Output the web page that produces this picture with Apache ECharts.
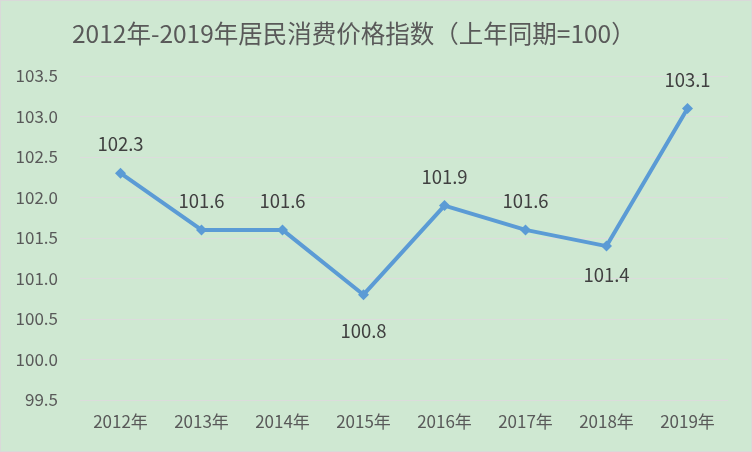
<!DOCTYPE html>
<html><head><meta charset="utf-8">
<script src="https://cdn.jsdelivr.net/npm/echarts@6/dist/echarts.min.js"></script>
<style>html,body{margin:0;padding:0;background:#d9d9d9;}#c{position:absolute;left:1px;top:1px;width:750px;height:450px;}</style>
</head><body><div id="c"></div>
<script>
const categories = ['2012年','2013年','2014年','2015年','2016年','2017年','2018年','2019年'];
const cpiValues = [102.3, 101.6, 101.6, 100.8, 101.9, 101.6, 101.4, 103.1];
const labelPositions = ['top','top','top','bottom','top','top','bottom','top'];
const labelDistances = [14, 14, 14, 22, 14, 14, 14, 14];
const chart = echarts.init(document.getElementById('c'));
const ff = '"Noto Sans CJK SC","Noto Sans",sans-serif';
chart.setOption({
  backgroundColor: '#cfe8d2',
  animation: false,
  title: {
    text: '2012年-2019年居民消费价格指数（上年同期=100）',
    left: 66, top: 15,
    textStyle: {fontFamily: ff, fontSize: 24.5, fontWeight: 'normal', color: '#595959'}
  },
  grid: {left: 79, right: 23, top: 75, bottom: 51},
  xAxis: {
    type: 'category', data: categories, boundaryGap: true,
    axisLine: {show: false}, axisTick: {show: false},
    axisLabel: {fontFamily: ff, fontSize: 17, color: '#595959', margin: 13}
  },
  yAxis: {
    type: 'value', min: 99.5, max: 103.5, interval: 0.5,
    axisLine: {show: false}, axisTick: {show: false},
    splitLine: {lineStyle: {color: '#dcdcdc', width: 1}},
    axisLabel: {fontFamily: ff, fontSize: 17, color: '#595959', margin: 22,
      formatter: v => v.toFixed(1)}
  },
  series: [{
    type: 'line',
    data: cpiValues.map((v, i) => ({value: v, label: {position: labelPositions[i], distance: labelDistances[i]}})),
    symbol: 'diamond', symbolSize: 11,
    lineStyle: {color: '#5b9bd5', width: 4},
    itemStyle: {color: '#5b9bd5'},
    label: {show: true, fontFamily: ff, fontSize: 18.5, color: '#404040',
      formatter: p => p.value.toFixed(1)}
  }]
});
</script></body></html>
